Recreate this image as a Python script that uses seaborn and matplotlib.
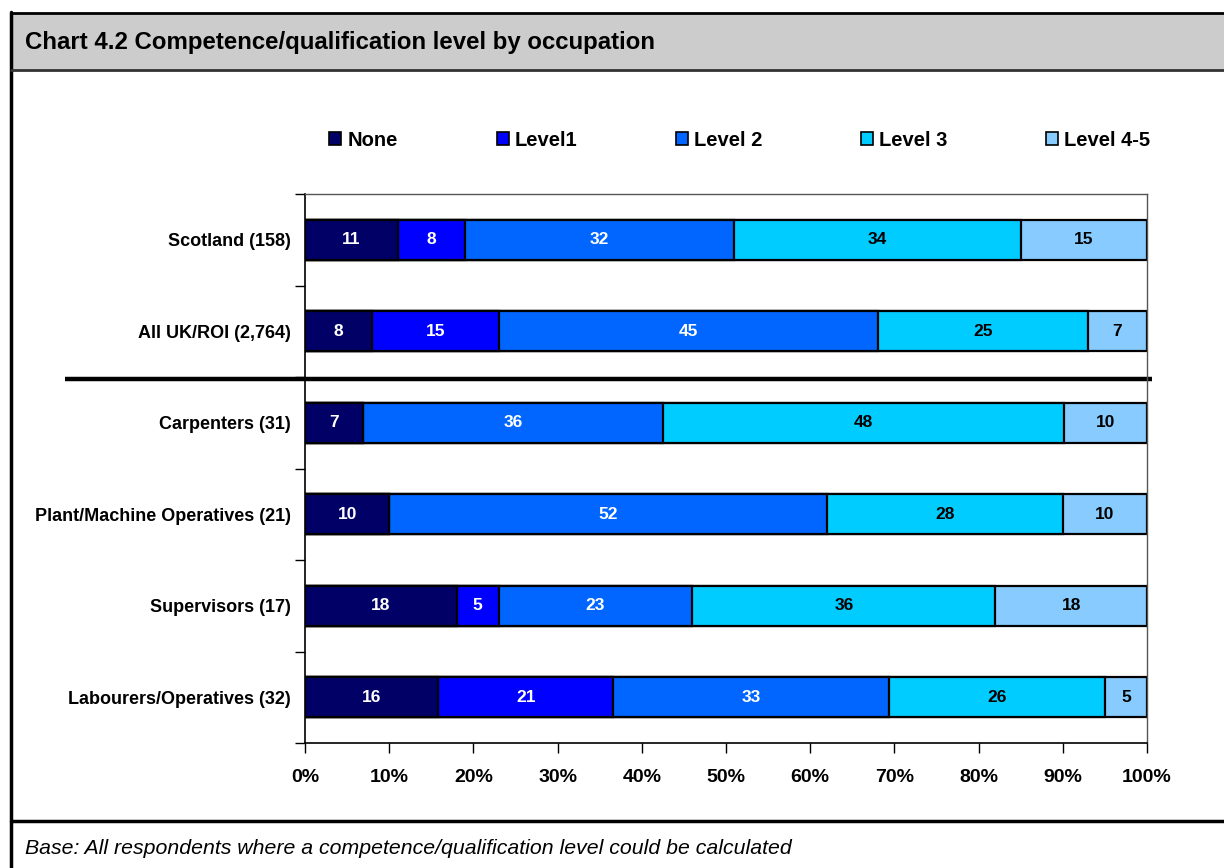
import numpy as np
import pandas as pd
import seaborn as sns
import matplotlib.pyplot as plt
from matplotlib.lines import Line2D
from matplotlib.patches import Rectangle

groups = ['Scotland (158)', 'All UK/ROI (2,764)', 'Carpenters (31)',
          'Plant/Machine Operatives (21)', 'Supervisors (17)', 'Labourers/Operatives (32)']
levels = ['None', 'Level1', 'Level 2', 'Level 3', 'Level 4-5']
none_vals = [11, 8, 7, 10, 18, 16]
level1_vals = [8, 15, 0, 0, 5, 21]
level2_vals = [32, 45, 36, 52, 23, 33]
level3_vals = [34, 25, 48, 28, 36, 26]
level45_vals = [15, 7, 10, 10, 18, 5]
colors = ['#000066', '#0000FF', '#0066FF', '#00CCFF', '#88CCFF']
text_colors = ['white', 'white', 'white', 'black', 'black']

df = pd.DataFrame({'group': groups, 'None': none_vals, 'Level1': level1_vals,
                   'Level 2': level2_vals, 'Level 3': level3_vals, 'Level 4-5': level45_vals})
raw = df[levels]
share = raw.div(raw.sum(axis=1), axis=0) * 100
cum = share.cumsum(axis=1)

sns.set_style('white')
plt.rcParams['font.family'] = ['Liberation Sans', 'DejaVu Sans']
plt.rcParams['text.color'] = 'black'
plt.rcParams['xtick.color'] = 'black'
plt.rcParams['ytick.color'] = 'black'

fig = plt.figure(figsize=(12.24, 8.68), dpi=100)
ax = fig.add_axes([305 / 1224, 1 - 743 / 868, 842 / 1224, 549 / 868])

# stacked bars: draw the cumulative totals from the last level back to the first
for i in range(len(levels) - 1, -1, -1):
    sns.barplot(x=cum[levels[i]], y=df['group'], orient='h', color=colors[i],
                edgecolor='black', linewidth=1.6, width=0.44, saturation=1,
                ax=ax, label=levels[i])

for r in range(len(groups)):
    for i, lv in enumerate(levels):
        v = raw.iloc[r][lv]
        if v == 0:
            continue
        mid = cum.iloc[r][lv] - share.iloc[r][lv] / 2
        ax.text(mid, r, str(v), ha='center', va='center', fontsize=12.5,
                fontweight='bold', color=text_colors[i])

ax.set_xlim(0, 100)
ax.set_ylim(5.5, -0.5)
ax.set_xticks(np.arange(0, 101, 10))
ax.set_xticklabels([f'{t}%' for t in range(0, 101, 10)], fontsize=14, fontweight='bold')
ax.set_yticks(np.arange(-0.5, 6, 1), minor=True)
ax.set_yticks(range(len(groups)))
ax.set_yticklabels(groups, fontsize=13, fontweight='bold')
ax.tick_params(axis='y', which='major', length=0, pad=10)
ax.tick_params(axis='y', which='minor', left=True, length=7, width=1, color='black')
ax.tick_params(axis='x', bottom=True, length=7, width=1, color='black', pad=12)
ax.set_xlabel('')
ax.set_ylabel('')
for s in ['top', 'right']:
    ax.spines[s].set_color('#555555')
    ax.spines[s].set_linewidth(1)
for s in ['left', 'bottom']:
    ax.spines[s].set_color('black')
    ax.spines[s].set_linewidth(1.2)

# divider between the overall rows and the occupations
ax.plot([-0.285, 1.006], [1 - 2 / 6 - 0.003, 1 - 2 / 6 - 0.003], transform=ax.transAxes,
        color='black', linewidth=3.2, clip_on=False, solid_capstyle='butt')

handles = [Rectangle((0, 0), 1, 1, facecolor=c, edgecolor='black', linewidth=1.2) for c in colors]
if ax.get_legend():
    ax.get_legend().remove()
fig.legend(handles, levels, loc='center', bbox_to_anchor=(740 / 1224, 1 - 140 / 868), ncol=5,
           frameon=False, handlelength=0.6, handleheight=0.6, handletextpad=0.3,
           columnspacing=4.9, prop={'weight': 'bold', 'size': 14.5})

# frame: title bar, borders, footnote
fig.patches.append(Rectangle((12 / 1224, 1 - 70 / 868), 1, 57 / 868, transform=fig.transFigure,
                             facecolor='#CCCCCC', edgecolor='none', zorder=0))
fig.add_artist(Line2D([11 / 1224, 11 / 1224], [0, 1 - 12 / 868], color='black', linewidth=2.5))
fig.add_artist(Line2D([11 / 1224, 1], [1 - 13 / 868, 1 - 13 / 868], color='black', linewidth=2))
fig.add_artist(Line2D([11 / 1224, 1], [1 - 70 / 868, 1 - 70 / 868], color='#333333', linewidth=2))
fig.add_artist(Line2D([11 / 1224, 1], [1 - 821 / 868, 1 - 821 / 868], color='black', linewidth=2.5))
fig.text(25 / 1224, 1 - 42 / 868, 'Chart 4.2 Competence/qualification level by occupation',
         fontsize=17.3, fontweight='bold', va='center', ha='left')
fig.text(25 / 1224, 1 - 848 / 868, 'Base: All respondents where a competence/qualification level could be calculated',
         fontsize=15.3, style='italic', va='center', ha='left')

fig.savefig('out.png', dpi=100)
